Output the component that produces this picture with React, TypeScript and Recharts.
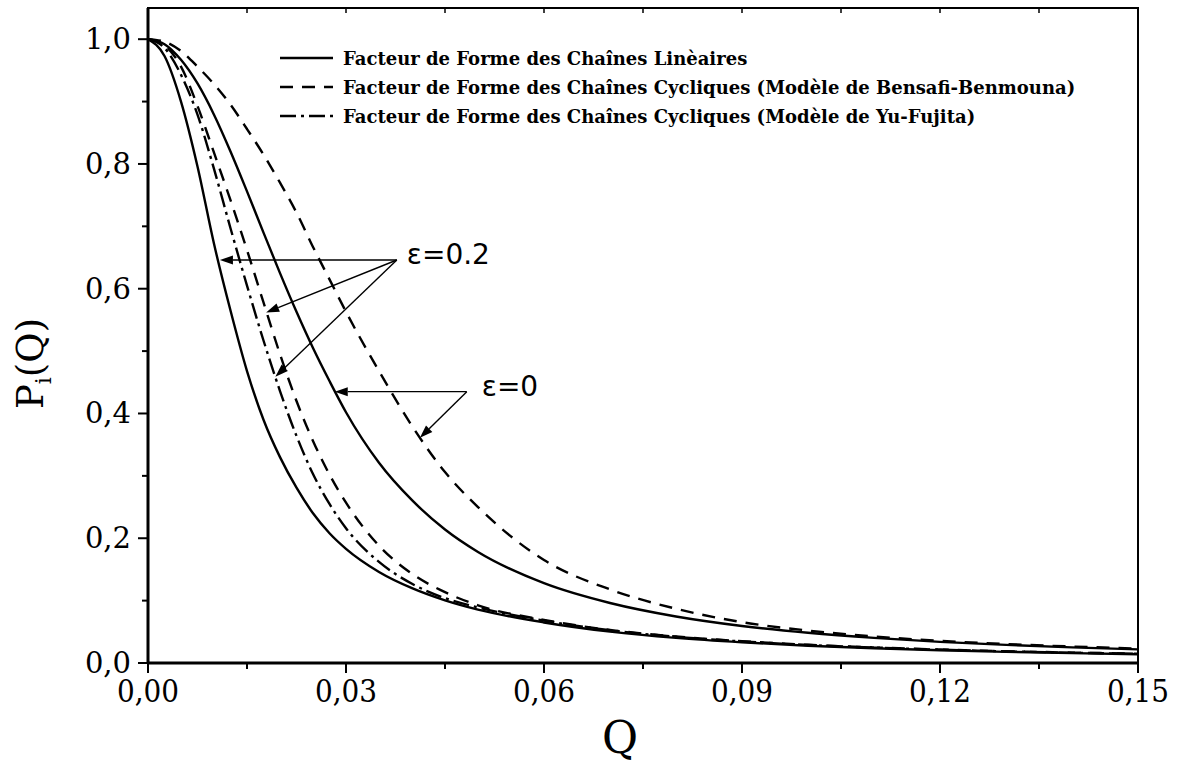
import {
  Legend,
  Line,
  LineChart,
  ReferenceArea,
  ReferenceDot,
  ReferenceLine,
  XAxis,
  YAxis,
} from "recharts";

// Q grid shared by every curve
const qValues = [
  0, 0.0025, 0.005, 0.0075, 0.01, 0.0125, 0.015, 0.0175, 0.02, 0.0225, 0.025, 0.0275, 0.03,
  0.035, 0.04, 0.045, 0.05, 0.06, 0.07, 0.08, 0.09, 0.1, 0.11, 0.12, 0.13, 0.14, 0.15,
];

// chaînes linéaires, eps = 0 (solid, outer)
const linearEps0 = [
  1, 0.992, 0.967, 0.929, 0.879, 0.82, 0.756, 0.69, 0.625, 0.563, 0.505, 0.452, 0.402,
  0.321, 0.261, 0.214, 0.178, 0.128, 0.0962, 0.0746, 0.0594, 0.0484, 0.0402, 0.0339, 0.029,
  0.0251, 0.0219,
];

// chaînes linéaires, eps = 0.2 (solid, inner)
const linearEps02 = [
  1, 0.973, 0.9, 0.796, 0.672, 0.565, 0.468, 0.39, 0.33, 0.281, 0.24, 0.208, 0.183, 0.146,
  0.12, 0.1005, 0.0856, 0.065, 0.0503, 0.0402, 0.0331, 0.0277, 0.0237, 0.0205, 0.0179,
  0.0158, 0.0141,
];

// cycliques Bensafi-Benmouna, eps = 0 (dashed, outer)
const bensafiEps0 = [
  1, 0.996, 0.981, 0.956, 0.928, 0.895, 0.856, 0.815, 0.77, 0.722, 0.667, 0.615, 0.563,
  0.468, 0.38, 0.306, 0.25, 0.165, 0.118, 0.087, 0.0655, 0.052, 0.0425, 0.0356, 0.0304,
  0.0264, 0.0232,
];

// cycliques Bensafi-Benmouna, eps = 0.2 (dashed, inner)
const bensafiEps02 = [
  1, 0.99, 0.956, 0.893, 0.818, 0.742, 0.662, 0.578, 0.495, 0.42, 0.356, 0.302, 0.257,
  0.188, 0.143, 0.1135, 0.0925, 0.069, 0.053, 0.0425, 0.035, 0.0292, 0.025, 0.0216,
  0.0189, 0.0167, 0.015,
];

// cycliques Yu-Fujita, eps = 0.2 (dash-dot)
const yuFujitaEps02 = [
  1, 0.986, 0.943, 0.879, 0.792, 0.697, 0.605, 0.517, 0.436, 0.364, 0.303, 0.255, 0.216,
  0.162, 0.127, 0.104, 0.089, 0.068, 0.0525, 0.042, 0.0345, 0.0289, 0.0247, 0.0214,
  0.0187, 0.0165, 0.0148,
];

const legendLabels = [
  "Facteur de Forme des Chaînes Linèaires",
  "Facteur de Forme des Chaînes Cycliques (Modèle de Bensafi-Benmouna)",
  "Facteur de Forme des Chaînes Cycliques (Modèle de Yu-Fujita)",
];

const xTicks = [0, 0.015, 0.03, 0.045, 0.06, 0.075, 0.09, 0.105, 0.12, 0.135, 0.15];
const yTicks = [0, 0.1, 0.2, 0.3, 0.4, 0.5, 0.6, 0.7, 0.8, 0.9, 1.0];

// arrow annotations: label anchor and arrow tips on the curves
const eps02Anchor = { q: 0.0377, p: 0.646 };
const eps02Tips = [
  { q: 0.0109, p: 0.646 },
  { q: 0.0179, p: 0.562 },
  { q: 0.0193, p: 0.459 },
];
const eps0Anchor = { q: 0.0483, p: 0.435 };
const eps0Tips = [
  { q: 0.0283, p: 0.435 },
  { q: 0.0412, p: 0.361 },
];

const SOLID = undefined;
const DASHED = "13 9";
const DASH_DOT = "16 5 3 5";

const data = qValues.map((q, i) => ({
  q,
  linE0: linearEps0[i],
  linE02: linearEps02[i],
  bbE0: bensafiEps0[i],
  bbE02: bensafiEps02[i],
  yfE02: yuFujitaEps02[i],
}));

const series = [
  { key: "linE0", dash: SOLID },
  { key: "linE02", dash: SOLID },
  { key: "bbE0", dash: DASHED },
  { key: "bbE02", dash: DASHED },
  { key: "yfE02", dash: DASH_DOT },
];

const legendDashes = [SOLID, DASHED, DASH_DOT];

const serif = "'DejaVu Serif', serif";

function XTick({ x, y, payload }: any) {
  const major = Math.round(payload.value / 0.015) % 2 === 0;
  return (
    <g>
      <line x1={x} x2={x} y1={y} y2={y + (major ? 10 : 6)} stroke="#000" strokeWidth={2} />
      {major && (
        <text
          x={x}
          y={y + 39}
          textAnchor="middle"
          fontFamily="'DejaVu Serif Condensed', 'DejaVu Serif', serif"
          fontSize={31}
          fill="#000"
        >
          {payload.value.toFixed(2).replace(".", ",")}
        </text>
      )}
    </g>
  );
}

function YTick({ x, y, payload }: any) {
  const major = Math.round(payload.value * 10) % 2 === 0;
  return (
    <g>
      <line x1={x} x2={x - (major ? 10 : 6)} y1={y} y2={y} stroke="#000" strokeWidth={2} />
      {major && (
        <text x={x - 17} y={y + 10} textAnchor="end" fontFamily={serif} fontSize={29} fill="#000">
          {payload.value.toFixed(1).replace(".", ",")}
        </text>
      )}
    </g>
  );
}

function TopTick({ x, y }: any) {
  return <line x1={x} x2={x} y1={y} y2={y + 5} stroke="#000" strokeWidth={1.5} />;
}

function RightTick({ x, y }: any) {
  return <line x1={x} x2={x + 3} y1={y} y2={y} stroke="#000" strokeWidth={1.5} />;
}

function Arrow({ x1, y1, x2, y2 }: any) {
  const ang = Math.atan2(y2 - y1, x2 - x1);
  const len = 13;
  const half = 4.5;
  const bx = x2 - len * Math.cos(ang);
  const by = y2 - len * Math.sin(ang);
  const px = -Math.sin(ang) * half;
  const py = Math.cos(ang) * half;
  return (
    <g>
      <line x1={x1} y1={y1} x2={bx} y2={by} stroke="#000" strokeWidth={1.4} />
      <polygon points={`${x2},${y2} ${bx + px},${by + py} ${bx - px},${by - py}`} fill="#000" />
    </g>
  );
}

function epsLabel(text: string, dx: number, dy: number) {
  return ({ viewBox }: any) => (
    <text
      x={viewBox.x + dx}
      y={viewBox.y + dy}
      fontFamily="'DejaVu Sans', sans-serif"
      fontSize={28}
      fill="#000"
      dominantBaseline="central"
    >
      {text}
    </text>
  );
}

function XTitle({ viewBox }: any) {
  return (
    <text
      x={viewBox.x + viewBox.width / 2 - 23}
      y={viewBox.y + 90}
      textAnchor="middle"
      fontFamily={serif}
      fontSize={44}
      fill="#000"
    >
      Q
    </text>
  );
}

function YTitle({ viewBox }: any) {
  const cx = viewBox.x + 43;
  const cy = viewBox.y + viewBox.height / 2 + 28;
  return (
    <text
      x={cx}
      y={cy}
      transform={`rotate(-90, ${cx}, ${cy})`}
      textAnchor="middle"
      fontFamily={serif}
      fontSize={37}
      fill="#000"
    >
      P
      <tspan fontSize={22} dy={8}>
        i
      </tspan>
      <tspan dy={-8}>(Q)</tspan>
    </text>
  );
}

function LegendBox() {
  return (
    <svg width={860} height={100}>
      {legendLabels.map((label, i) => {
        const y = 18 + i * 29;
        return (
          <g key={label}>
            <line x1={5} x2={58} y1={y} y2={y} stroke="#000" strokeWidth={2.4} strokeDasharray={legendDashes[i]} />
            <text x={68} y={y + 7} fontFamily={serif} fontWeight="bold" fontSize={18} fill="#000">
              {label}
            </text>
          </g>
        );
      })}
    </svg>
  );
}

export default function App() {
  return (
    <div style={{ position: "absolute", left: 0, top: 0, width: 1186, height: 774, background: "#fff" }}>
      <LineChart width={1186} height={774} data={data} margin={{ top: 0, right: 0, bottom: 0, left: 0 }}>
        <XAxis
          dataKey="q"
          type="number"
          domain={[0, 0.15]}
          ticks={xTicks}
          interval={0}
          tickSize={0}
          tickMargin={0}
          tickLine={false}
          tick={<XTick />}
          axisLine={{ stroke: "#000", strokeWidth: 3 }}
          height={111}
          label={{ content: (p: any) => <XTitle viewBox={p.viewBox} /> }}
        />
        <XAxis
          xAxisId="top"
          orientation="top"
          dataKey="q"
          type="number"
          domain={[0, 0.15]}
          ticks={xTicks}
          interval={0}
          tickSize={0}
          tickMargin={0}
          tickLine={false}
          tick={<TopTick />}
          axisLine={false}
          height={8}
        />
        <YAxis
          type="number"
          domain={[0, 1.05]}
          ticks={yTicks}
          interval={0}
          tickSize={0}
          tickMargin={0}
          tickLine={false}
          tick={<YTick />}
          axisLine={{ stroke: "#000", strokeWidth: 3 }}
          width={148}
          label={{ content: (p: any) => <YTitle viewBox={p.viewBox} /> }}
        />
        <YAxis
          yAxisId="right"
          orientation="right"
          type="number"
          domain={[0, 1.05]}
          ticks={yTicks}
          interval={0}
          tickSize={0}
          tickMargin={0}
          tickLine={false}
          tick={<RightTick />}
          axisLine={false}
          width={48}
        />
        <ReferenceArea
          x1={0}
          x2={0.15}
          y1={0}
          y2={1.05}
          fill="none"
          fillOpacity={0}
          stroke="#000"
          strokeWidth={2}
          ifOverflow="visible"
        />
        {series.map((s) => (
          <Line
            key={s.key}
            dataKey={s.key}
            type="monotone"
            stroke="#000"
            strokeWidth={2.4}
            strokeDasharray={s.dash}
            dot={false}
            activeDot={false}
            isAnimationActive={false}
          />
        ))}
        {eps02Tips.map((t, i) => (
          <ReferenceLine
            key={`e02-${i}`}
            segment={[
              { x: eps02Anchor.q, y: eps02Anchor.p },
              { x: t.q, y: t.p },
            ]}
            shape={(p: any) => <Arrow {...p} />}
          />
        ))}
        {eps0Tips.map((t, i) => (
          <ReferenceLine
            key={`e0-${i}`}
            segment={[
              { x: eps0Anchor.q, y: eps0Anchor.p },
              { x: t.q, y: t.p },
            ]}
            shape={(p: any) => <Arrow {...p} />}
          />
        ))}
        <ReferenceDot
          x={eps02Anchor.q}
          y={eps02Anchor.p}
          r={0}
          fill="none"
          stroke="none"
          label={{ content: epsLabel("ε=0.2", 10, -6) }}
        />
        <ReferenceDot
          x={eps0Anchor.q}
          y={eps0Anchor.p}
          r={0}
          fill="none"
          stroke="none"
          label={{ content: epsLabel("ε=0", 15, -5) }}
        />
        <Legend
          layout="horizontal"
          verticalAlign="middle"
          align="center"
          content={() => <LegendBox />}
          wrapperStyle={{ left: 275, top: 40, width: 860, height: 100 }}
        />
      </LineChart>
    </div>
  );
}
